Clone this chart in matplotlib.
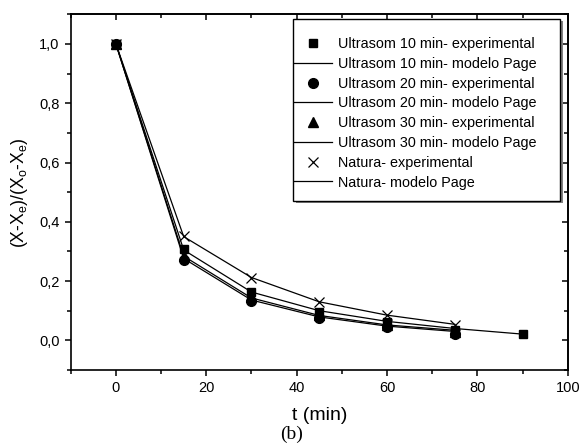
import numpy as np
import matplotlib
matplotlib.use("Agg")
import matplotlib.pyplot as plt
from matplotlib.patches import Rectangle
from matplotlib.ticker import MultipleLocator, FuncFormatter
from matplotlib.transforms import offset_copy

plt.rcParams['font.family'] = ['Liberation Sans', 'DejaVu Sans']
plt.rcParams['mathtext.default'] = 'regular'

# tempo (min)
t_10 = [0, 15, 30, 45, 60, 75, 90]
t_20 = [0, 15, 30, 45, 60, 75]
t_30 = [0, 15, 30, 45, 60, 75]
t_nat = [0, 15, 30, 45, 60, 75]

# razao de umidade experimental
exp_10 = [1.0, 0.308, 0.162, 0.097, 0.062, 0.034, 0.021]
exp_20 = [1.0, 0.272, 0.134, 0.077, 0.044, 0.020]
exp_30 = [1.0, 0.285, 0.145, 0.086, 0.052, 0.028]
exp_nat = [1.0, 0.353, 0.212, 0.128, 0.085, 0.051]

# modelo de Page
page_10 = [1.0, 0.305, 0.163, 0.100, 0.064, 0.040, 0.021]
page_20 = [1.0, 0.276, 0.136, 0.079, 0.048, 0.030]
page_30 = [1.0, 0.284, 0.143, 0.084, 0.052, 0.034]
page_nat = [1.0, 0.350, 0.212, 0.130, 0.085, 0.054]

fig = plt.figure(figsize=(5.86, 4.44), dpi=100)
ax = fig.add_axes([0.1207, 0.1667, 0.8481, 0.8011])

lw = 0.9
ax.plot(t_10, exp_10, ls='none', marker='s', ms=6, color='black', label='Ultrasom 10 min- experimental')
ax.plot(t_10, page_10, color='black', lw=lw, label='Ultrasom 10 min- modelo Page')
ax.plot(t_20, exp_20, ls='none', marker='o', ms=7, color='black', label='Ultrasom 20 min- experimental')
ax.plot(t_20, page_20, color='black', lw=lw, label='Ultrasom 20 min- modelo Page')
ax.plot(t_30, exp_30, ls='none', marker='^', ms=7, color='black', label='Ultrasom 30 min- experimental')
ax.plot(t_30, page_30, color='black', lw=lw, label='Ultrasom 30 min- modelo Page')
ax.plot(t_nat, exp_nat, ls='none', marker='x', ms=7, mew=0.9, color='black', label='Natura- experimental')
ax.plot(t_nat, page_nat, color='black', lw=lw, label='Natura- modelo Page')

ax.set_xlim(-10, 100)
ax.set_ylim(-0.1, 1.1)
ax.xaxis.set_major_locator(MultipleLocator(20))
ax.xaxis.set_minor_locator(MultipleLocator(10))
ax.yaxis.set_major_locator(MultipleLocator(0.2))
ax.yaxis.set_minor_locator(MultipleLocator(0.1))
ax.yaxis.set_major_formatter(FuncFormatter(lambda v, p: f"{v:.1f}".replace('.', ',').replace('-0,0', '0,0')))

for s in ax.spines.values():
    s.set_linewidth(1.2)
ax.tick_params(which='both', direction='out', labelsize=10.5, width=1.1)
ax.tick_params(which='major', length=4.5)
ax.tick_params(which='minor', length=3)

top = ax.secondary_xaxis('top')
top.xaxis.set_major_locator(MultipleLocator(20))
top.xaxis.set_minor_locator(MultipleLocator(10))
top.tick_params(which='both', direction='in', labeltop=False, width=1.1)
top.tick_params(which='major', length=4.5)
top.tick_params(which='minor', length=3)
top.spines['top'].set_linewidth(1.2)
right = ax.secondary_yaxis('right')
right.yaxis.set_major_locator(MultipleLocator(0.2))
right.yaxis.set_minor_locator(MultipleLocator(0.1))
right.tick_params(which='both', direction='in', labelright=False, width=1.1)
right.tick_params(which='major', length=4.5)
right.tick_params(which='minor', length=3)
right.spines['right'].set_linewidth(1.2)

ax.set_xlabel('t (min)', fontsize=14)
ax.xaxis.set_label_coords(0.5, -0.104)
ax.set_ylabel('(X-X$_e$)/(X$_o$-X$_e$)', fontsize=12.7)
ax.yaxis.set_label_coords(-0.081, 0.5)
fig.text(0.497, 0.003, '(b)', fontsize=14, family='Liberation Serif', ha='center', va='bottom')

# legend box with shadow (Origin style)
box = (0.4467, 0.476, 0.5378, 0.510)
shadow = Rectangle((box[0], box[1]), box[2], box[3], transform=offset_copy(ax.transAxes, fig, x=3, y=-2, units='dots'),
                   facecolor='#808080', edgecolor='none', zorder=4, clip_on=False)
frame = Rectangle((box[0], box[1]), box[2], box[3], transform=ax.transAxes,
                  facecolor='white', edgecolor='black', lw=1.0, zorder=5, clip_on=False)
ax.add_patch(shadow)
ax.add_patch(frame)

leg = ax.legend(loc='upper left', bbox_to_anchor=(0.4467, 0.940), borderaxespad=0,
                fontsize=10.4, handlelength=2.6, handletextpad=0.45, borderpad=0.1,
                labelspacing=0.40, frameon=False)
leg.set_zorder(6)

fig.savefig('out.png', dpi=100)
